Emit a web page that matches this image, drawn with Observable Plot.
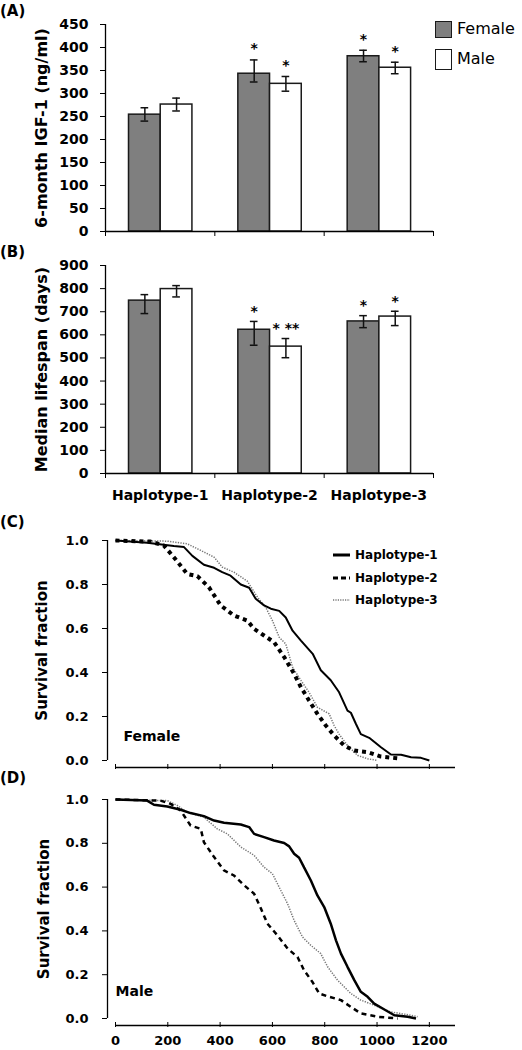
<!DOCTYPE html>
<html><head><meta charset="utf-8">
<script src="https://cdn.jsdelivr.net/npm/d3@7"></script>
<script src="https://cdn.jsdelivr.net/npm/@observablehq/plot@0.6"></script>
<style>
body{margin:0;background:#fff;font-family:"DejaVu Sans",sans-serif;}
#wrap{position:relative;width:522px;height:1050px;overflow:hidden;background:#fff}
.panel{position:absolute;left:0}
.plabel{position:absolute;left:0;font:bold 15px "DejaVu Sans",sans-serif;color:#000}
.leg{position:absolute;font-family:"DejaVu Sans",sans-serif;color:#000;white-space:nowrap}
</style></head><body><div id="wrap"></div>
<script>
// ---------- data ----------
const haplotypes = ["Haplotype-1", "Haplotype-2", "Haplotype-3"];
const sexes = ["Female", "Male"];

// (A) 6-month IGF-1 (ng/ml)
const igfFemale   = [254, 343, 381];
const igfFemaleLo = [240, 325, 369];
const igfFemaleHi = [269, 373, 394];
const igfMale     = [276, 321, 356];
const igfMaleLo   = [262, 305, 343];
const igfMaleHi   = [290, 337, 368];
const igfFemaleStars = ["", "*", "*"];
const igfMaleStars   = ["", "*", "*"];
const igfTicks = [0, 50, 100, 150, 200, 250, 300, 350, 400, 450];

// (B) Median lifespan (days)
const lifeFemale   = [748, 622, 658];
const lifeFemaleLo = [692, 555, 631];
const lifeFemaleHi = [774, 658, 683];
const lifeMale     = [798, 549, 679];
const lifeMaleLo   = [764, 501, 640];
const lifeMaleHi   = [813, 584, 702];
const lifeFemaleStars = ["", "*", "*"];
const lifeMaleStars   = ["", "* **", "*"];
const lifeTicks = [0, 100, 200, 300, 400, 500, 600, 700, 800, 900];

// (C) Female survival [day, fraction]
const femaleH1 = [[0,1],[121,0.99],[223,0.975],[262,0.97],[294,0.93],[338,0.89],[377,0.876],[408,0.856],[440,0.84],[479,0.80],[511,0.785],[536,0.735],[568,0.705],[594,0.69],[626,0.68],[651,0.65],[677,0.59],[709,0.545],[754,0.485],[785,0.41],[823,0.365],[855,0.31],[887,0.227],[900,0.217],[919,0.167],[938,0.12],[970,0.103],[1015,0.06],[1053,0.027],[1092,0.026],[1130,0.015],[1168,0.012],[1200,0]];
const femaleH2 = [[0,1],[134,0.995],[185,0.977],[223,0.924],[274,0.848],[313,0.838],[357,0.788],[402,0.705],[453,0.659],[504,0.636],[530,0.598],[568,0.568],[606,0.538],[645,0.47],[683,0.394],[709,0.333],[740,0.273],[772,0.212],[804,0.159],[836,0.114],[874,0.068],[913,0.045],[964,0.038],[1015,0.018],[1092,0.008]];
const femaleH3 = [[0,1],[198,0.997],[274,0.985],[326,0.955],[377,0.924],[408,0.879],[453,0.856],[504,0.815],[543,0.742],[574,0.697],[600,0.636],[626,0.56],[651,0.53],[677,0.424],[709,0.364],[740,0.31],[772,0.242],[817,0.212],[836,0.159],[855,0.12],[887,0.068],[926,0.023],[964,0.008],[1002,0]];

// (D) Male survival [day, fraction]
const maleH1 = [[0,1],[121,0.995],[147,0.976],[198,0.968],[249,0.953],[287,0.938],[338,0.924],[377,0.904],[415,0.894],[479,0.886],[511,0.874],[530,0.843],[568,0.828],[606,0.813],[645,0.801],[664,0.786],[683,0.752],[702,0.734],[721,0.69],[747,0.63],[772,0.562],[798,0.509],[823,0.433],[843,0.357],[862,0.296],[887,0.236],[913,0.175],[938,0.122],[964,0.099],[989,0.068],[1028,0.041],[1066,0.015],[1117,0.008],[1149,0]];
const maleH2 = [[0,1],[172,0.995],[211,0.98],[249,0.95],[287,0.881],[326,0.866],[338,0.805],[377,0.737],[415,0.676],[453,0.653],[492,0.608],[530,0.57],[556,0.502],[581,0.433],[619,0.38],[658,0.319],[696,0.281],[721,0.22],[753,0.167],[779,0.114],[817,0.099],[862,0.084],[900,0.053],[938,0.023],[1002,0.008],[1079,0]];
const maleH3 = [[0,1],[198,0.995],[236,0.973],[274,0.942],[338,0.919],[389,0.866],[428,0.843],[479,0.783],[530,0.745],[568,0.691],[600,0.661],[632,0.585],[658,0.524],[683,0.448],[715,0.372],[747,0.334],[785,0.296],[811,0.236],[849,0.175],[900,0.114],[938,0.084],[989,0.061],[1053,0.03],[1104,0.02],[1155,0.008]];

const survTicksX = [0, 200, 400, 600, 800, 1000, 1200];
const survTicksY = [0, 0.2, 0.4, 0.6, 0.8, 1.0];

// ---------- layout helpers ----------
const wrap = document.getElementById("wrap");
const FONT = "DejaVu Sans, sans-serif";
function place(el, top) {
  const d = document.createElement("div");
  d.className = "panel"; d.style.top = top + "px";
  d.appendChild(el); wrap.appendChild(d);
}
function addLabel(text, top) {
  const d = document.createElement("div");
  d.className = "plabel"; d.style.top = top + "px"; d.textContent = text;
  wrap.appendChild(d);
}

function barPanel(o) {
  const rows = [];
  haplotypes.forEach((h, i) => {
    rows.push({i, sex: "Female", v: o.f[i], lo: o.fLo[i], hi: o.fHi[i], star: o.fStar[i]});
    rows.push({i, sex: "Male", v: o.m[i], lo: o.mLo[i], hi: o.mHi[i], star: o.mStar[i]});
  });
  const x1 = d => d.i + (d.sex === "Female" ? 0.215 : 0.505);
  const x2 = d => d.i + (d.sex === "Female" ? 0.505 : 0.795);
  const xc = d => (x1(d) + x2(d)) / 2;
  const cap = 0.035;
  const cats = haplotypes.map((h, i) => ({h, i}));
  const marks = [
    Plot.rectY(rows.filter(d => d.sex === "Female"), {x1, x2, y1: 0, y2: "v", fill: "#7f7f7f", stroke: "#1a1a1a", strokeWidth: 1.5}),
    Plot.rectY(rows.filter(d => d.sex === "Male"), {x1, x2, y1: 0, y2: "v", fill: "#ffffff", stroke: "#1a1a1a", strokeWidth: 1.5}),
    Plot.ruleX(rows, {x: xc, y1: "lo", y2: "hi", stroke: "#111", strokeWidth: 1.5}),
    Plot.ruleY(rows, {y: "lo", x1: d => xc(d) - cap, x2: d => xc(d) + cap, stroke: "#111", strokeWidth: 1.5}),
    Plot.ruleY(rows, {y: "hi", x1: d => xc(d) - cap, x2: d => xc(d) + cap, stroke: "#111", strokeWidth: 1.5}),
    Plot.text(rows.filter(d => d.star), {x: xc, y: "hi", text: "star", dy: o.starDy, fontSize: 14, fontWeight: "bold", fill: "#000"}),
    Plot.axisY({ticks: o.ticks, tickSize: 5, tickPadding: 12, fontSize: 14, fontWeight: "bold", label: null}),
    Plot.axisX({ticks: [0, 1, 2, 3], tickSize: 5, tickFormat: () => "", label: null}),
    Plot.ruleY([0], {stroke: "#000", strokeWidth: 1.3}),
    Plot.ruleX([0], {stroke: "#000", strokeWidth: 1.3}),
    Plot.text([o.ylabel], {frameAnchor: "left", textAnchor: "middle", dx: -64, rotate: -90, text: d => d, fontSize: 16, fontWeight: "bold", fill: "#000"})
  ];
  if (o.showCats) {
    marks.push(Plot.text(cats, {x: d => d.i + 0.5, frameAnchor: "bottom", dy: 26, text: "h", fontSize: 14, fontWeight: "bold", fill: "#000"}));
  }
  return Plot.plot({
    width: 522, height: o.height,
    marginLeft: 105, marginRight: 89, marginTop: o.marginTop, marginBottom: o.marginBottom,
    x: {domain: [0, 3]},
    y: {domain: [0, o.max]},
    style: {fontFamily: FONT, color: "#000", background: "transparent", overflow: "visible"},
    marks
  });
}

function survPanel(o) {
  const st = o.styles;
  const lineOpts = {x: d => d[0], y: d => d[1], strokeLinecap: "butt", strokeLinejoin: "miter"};
  const marks = [
    Plot.line(o.h3, {...lineOpts, stroke: "#777", strokeWidth: st.w3, strokeDasharray: "1.3,1.3"}),
    Plot.line(o.h2, {...lineOpts, stroke: "#000", strokeWidth: st.w2, strokeDasharray: st.dash2}),
    Plot.line(o.h1, {...lineOpts, stroke: "#000", strokeWidth: st.w1}),
    Plot.axisY({ticks: survTicksY, tickFormat: d3.format(".1f"), tickSize: 5, tickPadding: 14, dx: -8, fontSize: 13, fontWeight: "bold", label: null}),
    Plot.ruleX([0], {dx: -8, stroke: "#000", strokeWidth: 1.3}),
    Plot.axisX({ticks: survTicksX, tickSize: 5, tickPadding: 8, dy: 4, tickFormat: o.showX ? d => String(d) : () => "", fontSize: 13, fontWeight: "bold", label: null}),
    Plot.ruleY([0], {dy: 7, stroke: "#000", strokeWidth: 1.3}),
    Plot.text(["Survival fraction"], {frameAnchor: "left", textAnchor: "middle", dx: o.ylabDx, rotate: -90, text: d => d, fontSize: 15, fontWeight: "bold", fill: "#000"}),
    Plot.text([o.group], {frameAnchor: "bottom-left", dx: o.groupDx, dy: o.groupDy, textAnchor: "start", text: d => d, fontSize: 14, fontWeight: "bold", fill: "#000"})
  ];
  return Plot.plot({
    width: 522, height: o.height,
    marginLeft: 115, marginRight: 67, marginTop: o.marginTop, marginBottom: o.marginBottom,
    x: {domain: [0, 1300]},
    y: {domain: [0, 1]},
    style: {fontFamily: FONT, color: "#000", background: "transparent", overflow: "visible"},
    marks
  });
}

// ---------- panels ----------
place(barPanel({height: 240, marginTop: 24, marginBottom: 9, max: 450, ticks: igfTicks,
  f: igfFemale, fLo: igfFemaleLo, fHi: igfFemaleHi, m: igfMale, mLo: igfMaleLo, mHi: igfMaleHi,
  fStar: igfFemaleStars, mStar: igfMaleStars, starDy: -11, ylabel: "6-month IGF-1 (ng/ml)", showCats: false}), 0);

place(barPanel({height: 275, marginTop: 25, marginBottom: 42, max: 900, ticks: lifeTicks,
  f: lifeFemale, fLo: lifeFemaleLo, fHi: lifeFemaleHi, m: lifeMale, mLo: lifeMaleLo, mHi: lifeMaleHi,
  fStar: lifeFemaleStars, mStar: lifeMaleStars, starDy: -10, ylabel: "Median lifespan (days)", showCats: true}), 240);

place(survPanel({height: 265, marginTop: 25, marginBottom: 20, h1: femaleH1, h2: femaleH2, h3: femaleH3,
  styles: {w1: 2, w2: 4, dash2: "4,4", w3: 1.5}, showX: false, group: "Female", groupDx: 8, groupDy: -20, ylabDx: -73}), 515);

place(survPanel({height: 270, marginTop: 19, marginBottom: 32, h1: maleH1, h2: maleH2, h3: maleH3,
  styles: {w1: 2.5, w2: 2.5, dash2: "5,4", w3: 1.5}, showX: true, group: "Male", groupDx: 0, groupDy: -23, ylabDx: -71}), 780);

// ---------- panel letters ----------
addLabel("(A)", 2);
addLabel("(B)", 243);
addLabel("(C)", 513);
addLabel("(D)", 769);

// ---------- legend A ----------
function legA(sex, fill, top, h) {
  const box = document.createElement("div");
  box.className = "leg";
  box.style.cssText += `left:435px;top:${top}px;width:15px;height:${h}px;border:1.5px solid #1a1a1a;background:${fill};`;
  wrap.appendChild(box);
  const t = document.createElement("div");
  t.className = "leg";
  t.style.cssText += `left:457px;top:${top + h / 2 - 10}px;font-size:16px;line-height:20px;`;
  t.textContent = sex;
  wrap.appendChild(t);
}
legA(sexes[0], "#7f7f7f", 21, 15);
legA(sexes[1], "#ffffff", 49, 19);

// ---------- legend C ----------
const legStyles = [
  {stroke: "#000", w: 3, dash: ""},
  {stroke: "#000", w: 3, dash: "5,3"},
  {stroke: "#777", w: 1.5, dash: "1.2,1.2"}
];
const legY = [555, 578, 600];
haplotypes.forEach((h, i) => {
  const s = legStyles[i];
  const d = document.createElement("div");
  d.className = "leg";
  d.style.cssText += `left:333px;top:${legY[i] - 9}px;height:18px;line-height:18px;font-size:12px;font-weight:bold;display:flex;align-items:center;`;
  d.innerHTML = `<svg width="18" height="18" style="margin-right:4px"><line x1="0" x2="17" y1="9" y2="9" stroke="${s.stroke}" stroke-width="${s.w}" ${s.dash ? `stroke-dasharray="${s.dash}"` : ""}/></svg><span>${h}</span>`;
  wrap.appendChild(d);
});
</script></body></html>
